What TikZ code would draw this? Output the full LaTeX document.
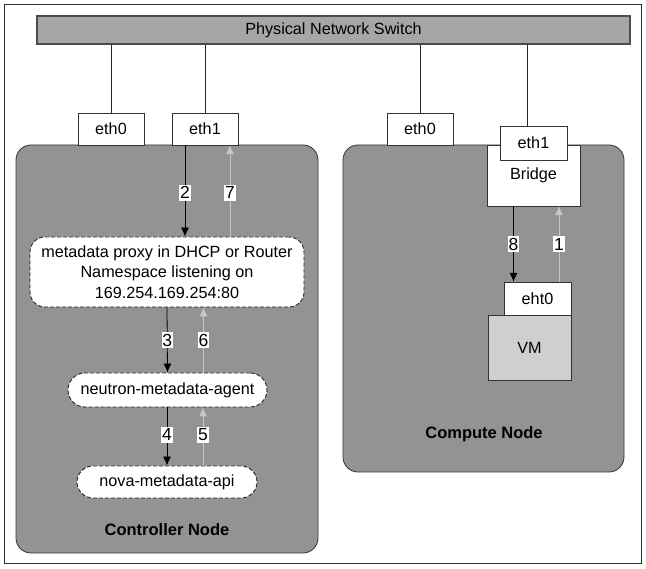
\documentclass[tikz,border=0pt]{standalone}
\usepackage{fontspec}
\setmainfont{Liberation Sans}
\usepackage{xcolor}
\usepackage{tikz}
\usetikzlibrary{shapes,arrows.meta,positioning,calc}
\definecolor{switchgray}{HTML}{A6A6A8}
\definecolor{hostgray}{HTML}{939396}
\definecolor{vmgray}{HTML}{CFCFD1}
\definecolor{backgray}{HTML}{C8C8C8}
\tikzset{
    host/.style={rectangle, draw=black!80, line width=0.8pt, fill=hostgray, rounded corners=15pt, inner sep=0pt},
    port/.style={rectangle, draw=black!80, fill=white, minimum width=66pt, minimum height=32pt, inner sep=0pt},
    service/.style={rectangle, draw=black!85, line width=0.9pt, dash pattern=on 4pt off 2pt, fill=white, inner sep=0pt, align=center},
    wire/.style={draw=black!85, line width=0.7pt},
    req/.style={draw=black, line width=0.8pt, -{Latex[length=9pt,width=8pt]}},
    resp/.style={draw=backgray, line width=0.8pt, -{Latex[length=9pt,width=8pt]}},
    step label/.style={fill=white, inner xsep=0.8pt, inner ysep=2pt, text=black, font=\fontsize{17.5}{19}\selectfont}
}

\begin{document}
\begin{tikzpicture}[x=1pt, y=-1pt, font=\fontsize{16.2}{20.5}\selectfont]
    \useasboundingbox (0,0) rectangle (646,569);
    % Outer frame
    \draw[black!80, line width=0.8pt] (4,4) rectangle (641,563);

    % Switch
    \node [rectangle, draw=black!70, line width=1.4pt, fill=switchgray, minimum width=593pt, minimum height=28pt, inner sep=0pt] (switch) at (333.5,30) {Physical Network Switch};

    % Hosts
    \node [host, minimum width=302pt, minimum height=408pt] (controller) at (167,349) {};
    \node [host, minimum width=281pt, minimum height=327pt] (compute) at (483.5,308.5) {};
    \node [font=\fontsize{16.5}{18}\selectfont\bfseries] (controller-label) at (167,530) {Controller Node};
    \node [font=\fontsize{16.5}{18}\selectfont\bfseries] (compute-label) at (484,434) {Compute Node};

    % Controller ports
    \node [port] (ctrl-eth0) at (111,129) {eth0};
    \node [port] (ctrl-eth1) at (205,129) {eth1};

    % Compute ports, bridge and VM
    \node [port] (comp-eth0) at (420,129) {eth0};
    \node [rectangle, draw=black!80, fill=white, minimum width=93pt, minimum height=61pt, inner sep=0pt] (bridge) at (533.5,175.5) {\raisebox{-3pt}{Bridge}};
    \node [port, minimum width=67pt, minimum height=34pt] (comp-eth1) at (533.5,143) {eth1};
    \node [rectangle, draw=black!80, fill=vmgray, minimum width=83pt, minimum height=65pt, inner sep=0pt] (vm) at (529.5,347.5) {VM};
    \node [port, minimum width=67pt, minimum height=33pt] (vm-eth0) at (537.5,298.5) {eht0};

    % Metadata services
    \node [service, rounded corners=15pt, minimum width=274pt, minimum height=70pt] (proxy) at (167,272) {metadata proxy in DHCP or Router\\Namespace listening on\\169.254.169.254:80};
    \node [service, rounded corners=17pt, minimum width=199pt, minimum height=34pt] (agent) at (167.5,390) {neutron-metadata-agent};
    \node [service, rounded corners=16pt, minimum width=180pt, minimum height=32pt] (nova) at (167,482) {nova-metadata-api};

    % Uplinks
    \path [wire] (ctrl-eth0.north) -- (ctrl-eth0.north |- switch.south);
    \path [wire] (ctrl-eth1.north) -- (ctrl-eth1.north |- switch.south);
    \path [wire] (comp-eth0.north) -- (comp-eth0.north |- switch.south);
    \path [wire] ([xshift=-6pt]comp-eth1.north) -- ([xshift=-6pt]comp-eth1.north |- switch.south);

    % Request path
    \path [req] ([xshift=-20pt]ctrl-eth1.south) -- ([xshift=-20pt]ctrl-eth1.south |- proxy.north) node [step label, pos=0.52] {2};
    \path [req] (proxy.south) -- (agent.north) node [step label, pos=0.5] {3};
    \path [req] ([xshift=-0.5pt]agent.south) -- ([xshift=-0.5pt]agent.south |- nova.north) node [step label, pos=0.47] {4};
    \path [req] ([xshift=-20pt]bridge.south) -- ([xshift=-20pt]bridge.south |- vm-eth0.north) node [step label, pos=0.5] {8};

    % Response path
    \path [resp] ([xshift=36pt]nova.north) -- ([xshift=36pt]nova.north |- agent.south) node [step label, pos=0.53] {5};
    \path [resp] ([xshift=36pt]agent.north) -- ([xshift=36pt]agent.north |- proxy.south) node [step label, pos=0.5] {6};
    \path [resp] ([xshift=25pt]ctrl-eth1.south |- proxy.north) -- ([xshift=25pt]ctrl-eth1.south) node [step label, pos=0.48] {7};
    \path [resp] ([xshift=21.5pt]vm-eth0.north) -- ([xshift=21.5pt]vm-eth0.north |- bridge.south) node [step label, pos=0.5] {1};
\end{tikzpicture}
\end{document}
